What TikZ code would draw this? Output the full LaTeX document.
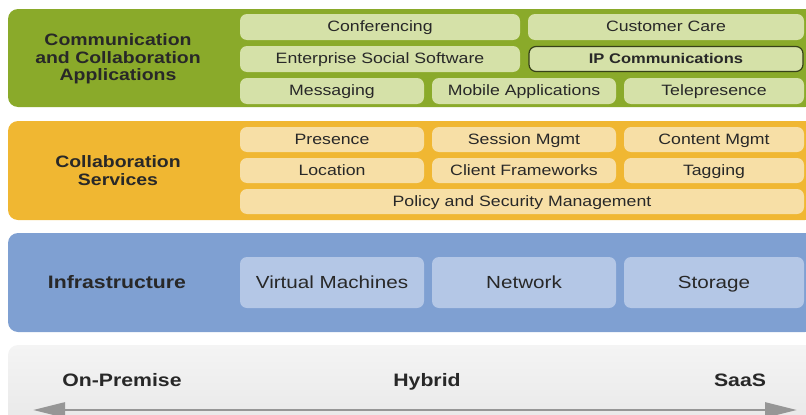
\documentclass[tikz,border=0pt]{standalone}
\usepackage{fontspec}
\setmainfont{Liberation Sans}[FakeStretch=1.18]
\usetikzlibrary{arrows.meta}
\definecolor{gband}{RGB}{138,170,42}
\definecolor{gbox}{RGB}{213,225,168}
\definecolor{oband}{RGB}{240,183,50}
\definecolor{obox}{RGB}{247,223,166}
\definecolor{bband}{RGB}{127,160,210}
\definecolor{bbox}{RGB}{180,199,230}
\definecolor{grtop}{RGB}{244,244,244}
\definecolor{grbot}{RGB}{230,230,230}
\definecolor{txt}{RGB}{40,40,40}
\definecolor{ipline}{RGB}{55,65,25}
\definecolor{arrowgray}{RGB}{150,150,150}
\begin{document}
\begin{tikzpicture}[x=1pt,y=-1pt,
  band/.style={rounded corners=10pt, inner sep=0pt, minimum width=807pt},
  sub/.style={rounded corners=7pt, inner sep=0pt, text=txt, text height=10.2pt, text depth=0.5pt, font=\fontsize{15}{17}\selectfont},
  gsub/.style={sub, fill=gbox, minimum height=26pt},
  osub/.style={sub, fill=obox, minimum height=25pt},
  bsub/.style={sub, fill=bbox, minimum height=51pt, text height=12pt, text depth=0.5pt, font=\fontsize{17.5}{19}\selectfont},
  lbl/.style={text=txt, align=center, font=\bfseries\fontsize{16.5}{17.5}\selectfont},
  biglbl/.style={text=txt, text height=12.5pt, text depth=0.5pt, font=\bfseries\fontsize{18}{20}\selectfont}]
\useasboundingbox (0,0) rectangle (806,415);

% green band
\node[band, fill=gband, minimum height=98pt] (gb) at (411.5,58) {};
\node[lbl] (gl) at (118,59) {Communication\\and Collaboration\\Applications};
\node[gsub, minimum width=280pt] (conf) at (380,27) {Conferencing};
\node[gsub, minimum width=276pt] (cc) at (666,27) {Customer Care};
\node[gsub, minimum width=280pt] (ess) at (380,59) {Enterprise Social Software};
\node[gsub, minimum width=274pt, minimum height=25pt, draw=ipline, line width=1.2pt, text height=9.6pt, font=\bfseries\fontsize{14}{16}\selectfont] (ip) at (666,59) {IP Communications};
\node[gsub, minimum width=184pt] (msg) at (332,91) {Messaging};
\node[gsub, minimum width=184pt] (mob) at (524,91) {Mobile Applications};
\node[gsub, minimum width=180pt] (tele) at (714,91) {Telepresence};

% orange band
\node[band, fill=oband, minimum height=99pt] (ob) at (411.5,170.5) {};
\node[lbl] (ol) at (118,170.5) {Collaboration\\Services};
\node[osub, minimum width=184pt] (pres) at (332,139.5) {Presence};
\node[osub, minimum width=184pt] (sess) at (524,139.5) {Session Mgmt};
\node[osub, minimum width=180pt] (cont) at (714,139.5) {Content Mgmt};
\node[osub, minimum width=184pt] (loc) at (332,170.5) {Location};
\node[osub, minimum width=184pt] (cf) at (524,170.5) {Client Frameworks};
\node[osub, minimum width=180pt] (tag) at (714,170.5) {Tagging};
\node[osub, minimum width=564pt] (pol) at (522,201.5) {Policy and Security Management};

% blue band
\node[band, fill=bband, minimum height=99pt] (bb) at (411.5,282.5) {};
\node[biglbl] (bl) at (117,282.5) {Infrastructure};
\node[bsub, minimum width=184pt] (vm) at (332,282.5) {Virtual Machines};
\node[bsub, minimum width=184pt] (net) at (524,282.5) {Network};
\node[bsub, minimum width=180pt] (sto) at (714,282.5) {Storage};

% gray band
\node[band, top color=grtop, bottom color=grbot, minimum height=95pt] (grb) at (411.5,392.5) {};
\node[biglbl] (onp) at (122,380) {On-Premise};
\node[biglbl] (hyb) at (427,380) {Hybrid};
\node[biglbl] (saas) at (740,380) {SaaS};
\coordinate (al) at (33,410);
\coordinate (ar) at (797,410);
\draw[arrowgray, line width=2.6pt, {Triangle[length=32pt,width=15pt]}-{Triangle[length=32pt,width=15pt]}] (al) -- (ar);
\end{tikzpicture}
\end{document}
